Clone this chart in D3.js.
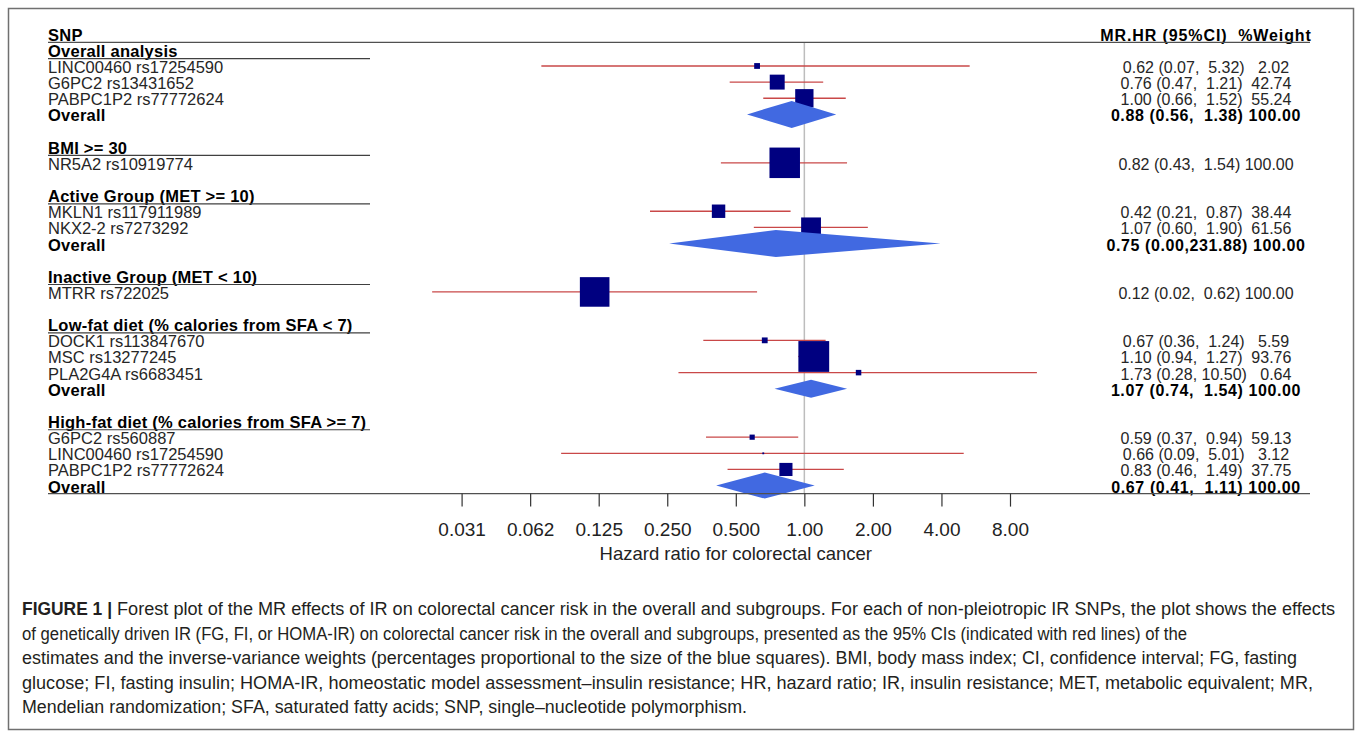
<!DOCTYPE html>
<html><head><meta charset="utf-8">
<script src="https://cdn.jsdelivr.net/npm/d3@7"></script>
<style>
body{margin:0;background:#fff}
svg text{white-space:pre;font-family:"Liberation Sans",Arial,sans-serif}
</style>
</head><body>
<svg id="c" width="1358" height="734"></svg>
<script>
// ---------------- data ----------------
const groups = ["Overall analysis", "BMI >= 30", "Active Group (MET >= 10)",
  "Inactive Group (MET < 10)", "Low-fat diet (% calories from SFA < 7)",
  "High-fat diet (% calories from SFA >= 7)"];
const snpLabels = ["LINC00460 rs17254590", "G6PC2 rs13431652", "PABPC1P2 rs77772624",
  "NR5A2 rs10919774", "MKLN1 rs117911989", "NKX2-2 rs7273292", "MTRR rs722025",
  "DOCK1 rs113847670", "MSC rs13277245", "PLA2G4A rs6683451",
  "G6PC2 rs560887", "LINC00460 rs17254590", "PABPC1P2 rs77772624"];
const snpGroup  = [0, 0, 0, 1, 2, 2, 3, 4, 4, 4, 5, 5, 5];
const snpHR     = [0.62, 0.76, 1.00, 0.82, 0.42, 1.07, 0.12, 0.67, 1.10, 1.73, 0.59, 0.66, 0.83];
const snpLo     = [0.07, 0.47, 0.66, 0.43, 0.21, 0.60, 0.0232, 0.36, 0.94, 0.28, 0.37, 0.0855, 0.46];
const snpHi     = [5.32, 1.21, 1.52, 1.54, 0.87, 1.90, 0.62, 1.24, 1.27, 10.50, 0.94, 5.01, 1.49];
const snpWeight = [2.02, 42.74, 55.24, 100.00, 38.44, 61.56, 100.00, 5.59, 93.76, 0.64, 59.13, 3.12, 37.75];
// box size as it appears in the picture (percent of the largest box)
const snpBoxPct = [19, 49, 60, 100, 44, 65, 97, 19, 101, 18, 17, 6, 43];

const overallGroup  = [0, 2, 4, 5];
const overallHR     = [0.88, 0.75, 1.07, 0.67];
const overallLo     = [0.56, 0.00, 0.74, 0.41];
const overallHi     = [1.38, 231.88, 1.54, 1.11];
const overallWeight = [100.00, 100.00, 100.00, 100.00];
// diamond extent as drawn in the picture
const diamondLo = [0.56, 0.255, 0.74, 0.41];
const diamondHi = [1.38, 3.97, 1.54, 1.11];

const tickValues = [0.03125, 0.0625, 0.125, 0.25, 0.5, 1, 2, 4, 8];
const tickLabels = ["0.031", "0.062", "0.125", "0.250", "0.500", "1.00", "2.00", "4.00", "8.00"];
const axisTitle = "Hazard ratio for colorectal cancer";
const headerLeft = "SNP";
const headerRight = "MR.HR (95%CI)  %Weight";

const captionBold = "FIGURE 1 |";
const captionLines = [
  "Forest plot of the MR effects of IR on colorectal cancer risk in the overall and subgroups. For each of non-pleiotropic IR SNPs, the plot shows the effects",
  "of genetically driven IR (FG, FI, or HOMA-IR) on colorectal cancer risk in the overall and subgroups, presented as the 95% CIs (indicated with red lines) of the",
  "estimates and the inverse-variance weights (percentages proportional to the size of the blue squares). BMI, body mass index; CI, confidence interval; FG, fasting",
  "glucose; FI, fasting insulin; HOMA-IR, homeostatic model assessment\u2013insulin resistance; HR, hazard ratio; IR, insulin resistance; MET, metabolic equivalent; MR,",
  "Mendelian randomization; SFA, saturated fatty acids; SNP, single\u2013nucleotide polymorphism."
];

// ---------------- style / layout ----------------
const diamondHeight = [27, 27, 18, 26];
const captionWidths = [1218, 1165, 1275, 1291, 725];
const FS = 16.5;

// ---------------- build rows ----------------
const rows = [];
rows.push({kind: "header"});
groups.forEach((g, gi) => {
  rows.push({kind: "group", label: g});
  snpGroup.forEach((sg, i) => { if (sg === gi) rows.push({kind: "snp", i}); });
  const oi = overallGroup.indexOf(gi);
  if (oi >= 0) rows.push({kind: "overall", i: oi});
  if (gi < groups.length - 1) rows.push({kind: "blank"});
});
rows.forEach((r, k) => r.k = k);

const svg = d3.select("#c");
const x = d3.scaleLog().domain([0.03125, 8]).range([461.6, 1010]);
const y = d3.scaleLinear().domain([0, rows.length - 1]).range([40.7, 492.6]);
const box = d3.scaleLinear().domain([0, 100]).range([0, 30.5]);
const markOff = -7;
const leftX = 48, rightX = 1310, colX = 1206;

function fmt(hr, lo, hi, w) {
  return hr.toFixed(2) + " (" + lo.toFixed(2) + "," + hi.toFixed(2).padStart(6, " ") + ") " + w.toFixed(2).padStart(6, " ");
}

// frame
svg.append("rect").attr("x", 8.5).attr("y", 8.5).attr("width", 1345).attr("height", 721)
  .attr("fill", "none").attr("stroke", "#707070").attr("stroke-width", 1.5);

// reference line at 1
svg.append("line").attr("x1", x(1)).attr("x2", x(1))
  .attr("y1", y(0) + 1.7).attr("y2", y(rows.length - 1) + 1)
  .attr("stroke", "#bdbdbd").attr("stroke-width", 1.5);

// header
svg.append("text").attr("x", leftX).attr("y", y(0)).attr("font-size", FS).attr("font-weight", "bold")
  .attr("letter-spacing", 0.25).attr("fill", "#000").text(headerLeft);
svg.append("text").attr("x", colX).attr("y", y(0)).attr("font-size", 16).attr("font-weight", "bold")
  .attr("letter-spacing", 0.9)
  .attr("text-anchor", "middle").attr("xml:space", "preserve").attr("fill", "#000").text(headerRight);
svg.append("line").attr("x1", leftX).attr("x2", rightX).attr("y1", y(0) + 1.7).attr("y2", y(0) + 1.7)
  .attr("stroke", "#505050").attr("stroke-width", 1.3);

// rows
rows.forEach(r => {
  const by = y(r.k), cy = by + markOff;
  if (r.kind === "group") {
    svg.append("text").attr("x", leftX).attr("y", by).attr("font-size", FS).attr("font-weight", "bold")
      .attr("letter-spacing", 0.25).attr("fill", "#000").text(r.label);
    svg.append("line").attr("x1", leftX).attr("x2", 370).attr("y1", by + 1.7).attr("y2", by + 1.7)
      .attr("stroke", "#404040").attr("stroke-width", 1.2);
  } else if (r.kind === "snp") {
    const i = r.i;
    svg.append("text").attr("x", leftX).attr("y", by).attr("font-size", FS).attr("fill", "#262626").text(snpLabels[i]);
    svg.append("text").attr("x", colX).attr("y", by).attr("font-size", 16).attr("fill", "#262626")
      .attr("text-anchor", "middle").attr("xml:space", "preserve")
      .text(fmt(snpHR[i], snpLo[i], snpHi[i], snpWeight[i]));
    svg.append("line").attr("x1", x(snpLo[i])).attr("x2", x(snpHi[i])).attr("y1", cy).attr("y2", cy)
      .attr("stroke", "#c94848").attr("stroke-width", 1.3);
    const s = Math.max(box(snpBoxPct[i]), 1.8);
    svg.append("rect").attr("x", x(snpHR[i]) - s / 2).attr("y", cy - s / 2).attr("width", s).attr("height", s)
      .attr("fill", "#000080");
  } else if (r.kind === "overall") {
    const i = r.i;
    svg.append("text").attr("x", leftX).attr("y", by).attr("font-size", FS).attr("font-weight", "bold")
      .attr("letter-spacing", 0.25).attr("fill", "#000").text("Overall");
    svg.append("text").attr("x", colX).attr("y", by).attr("font-size", 16).attr("font-weight", "bold").attr("fill", "#000")
      .attr("letter-spacing", 0.6)
      .attr("text-anchor", "middle").attr("xml:space", "preserve")
      .text(fmt(overallHR[i], overallLo[i], overallHi[i], overallWeight[i]));
    const h = diamondHeight[i] / 2;
    const pts = [[x(diamondLo[i]), cy], [x(overallHR[i]), cy - h], [x(diamondHi[i]), cy], [x(overallHR[i]), cy + h]];
    svg.append("path").attr("d", d3.line()(pts) + "Z").attr("fill", "#4169e1");
  }
});

// bottom axis line
const axisY = y(rows.length - 1) + 1;
svg.append("line").attr("x1", leftX).attr("x2", rightX).attr("y1", axisY).attr("y2", axisY)
  .attr("stroke", "#505050").attr("stroke-width", 1.3);

const axis = d3.axisBottom(x).tickValues(tickValues).tickFormat((d, i) => tickLabels[i])
  .tickSize(13).tickPadding(16);
const ag = svg.append("g").attr("transform", `translate(0,${axisY})`).call(axis);
ag.select(".domain").remove();
ag.selectAll(".tick line").attr("stroke", "#333").attr("stroke-width", 1.2);
ag.selectAll(".tick text").attr("font-size", 19).attr("fill", "#222")
  .attr("font-family", '"Liberation Sans",Arial,sans-serif');

svg.append("text").attr("x", (x(0.03125) + x(8)) / 2).attr("y", 560).attr("text-anchor", "middle")
  .attr("font-size", 18.5).attr("fill", "#222").text(axisTitle);

// caption
const capY0 = 615, capDy = 24.5;
svg.append("text").attr("x", 22).attr("y", capY0).attr("font-size", 17.5).attr("font-weight", "bold")
  .attr("fill", "#231f20").attr("textLength", 90).attr("lengthAdjust", "spacingAndGlyphs").text(captionBold);
captionLines.forEach((t, i) => {
  svg.append("text").attr("x", i === 0 ? 117 : 22).attr("y", capY0 + i * capDy).attr("font-size", 17.5)
    .attr("fill", "#231f20").attr("textLength", captionWidths[i]).attr("lengthAdjust", "spacingAndGlyphs").text(t);
});
</script>
</body></html>
